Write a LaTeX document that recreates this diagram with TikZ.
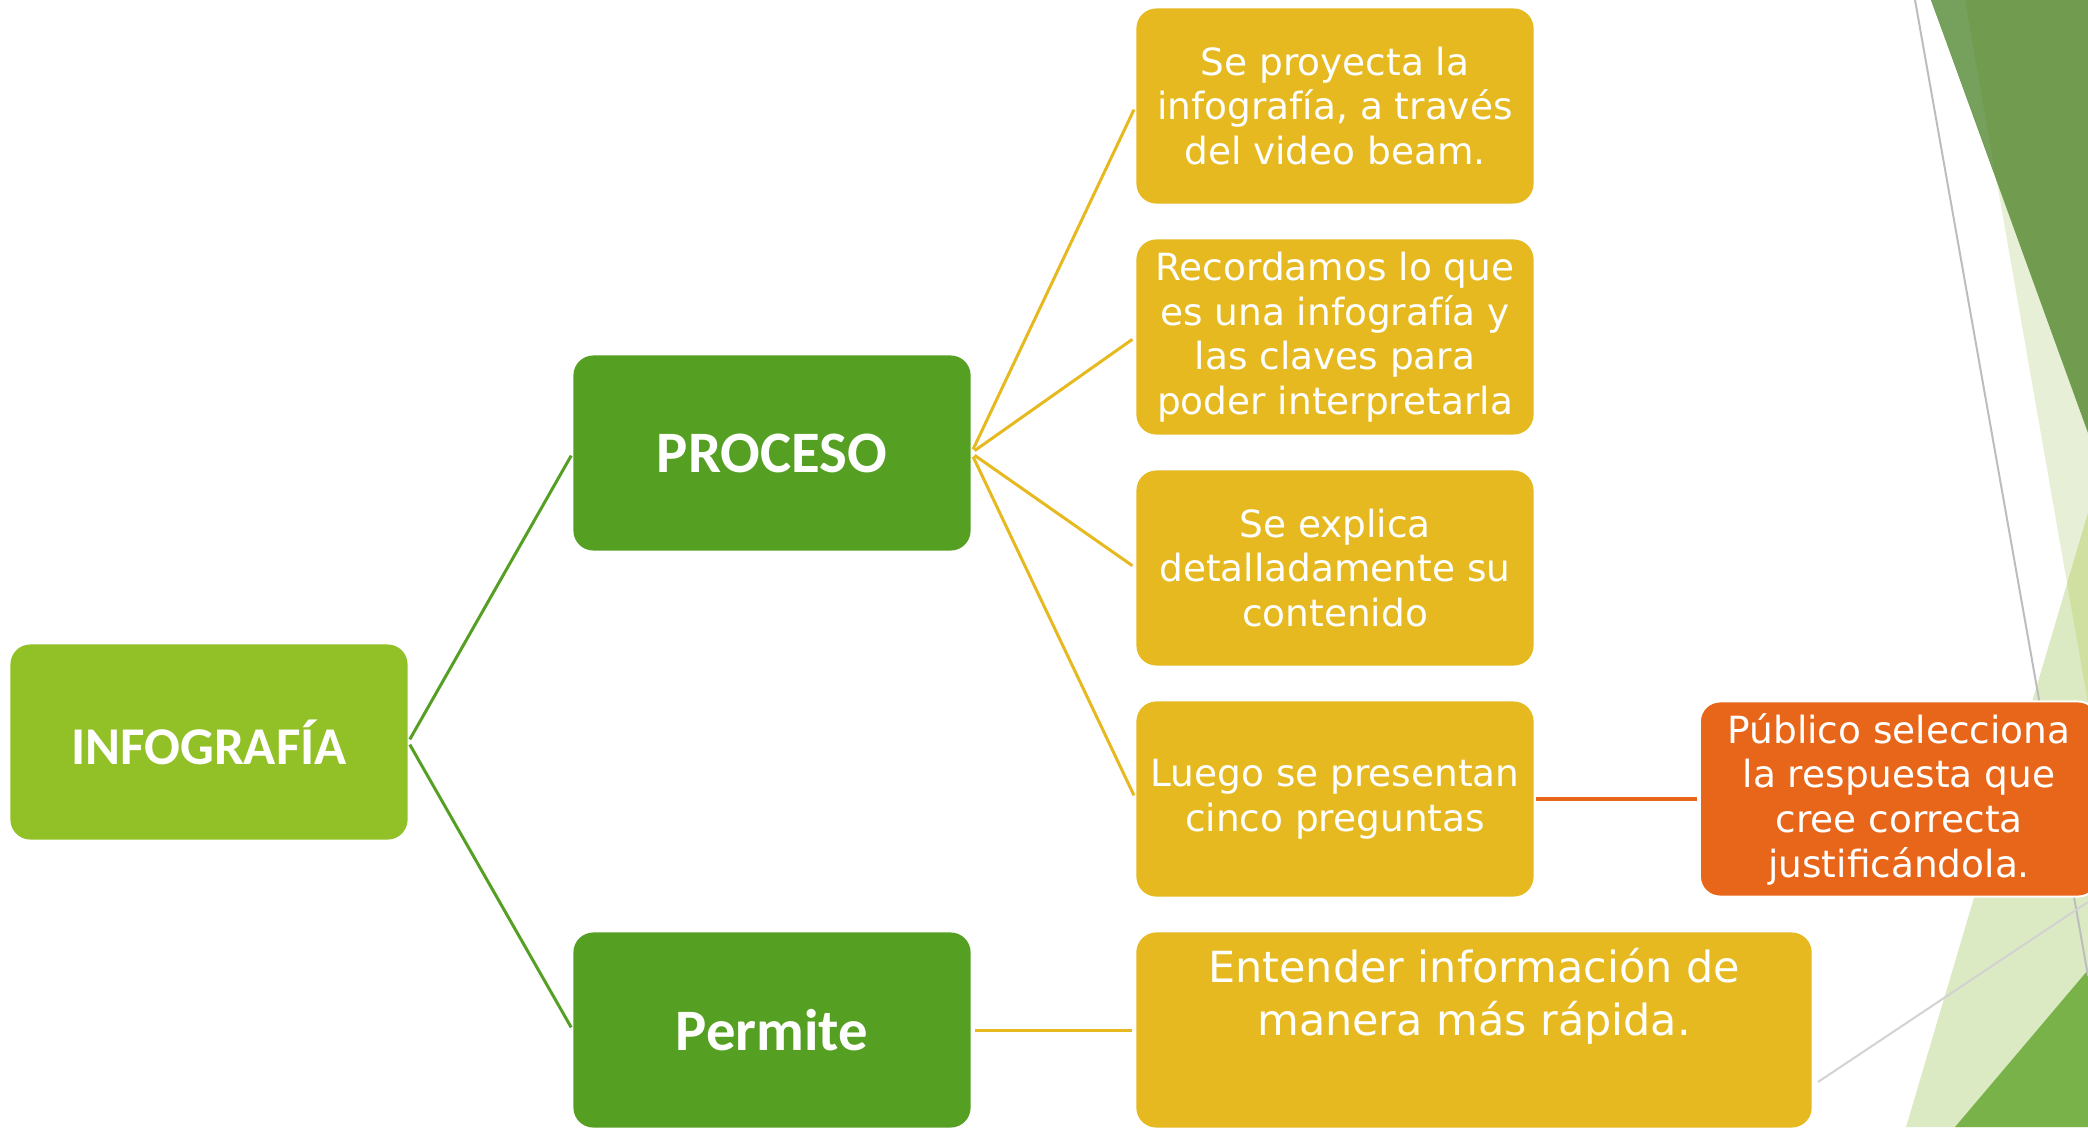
\documentclass[tikz,border=0pt]{standalone}
\usepackage{fontspec}
\setmainfont{DejaVu Sans}
\newfontfamily\titlefont{Carlito}
\definecolor{gA}{HTML}{92C127}
\definecolor{gB}{HTML}{55A023}
\definecolor{yel}{HTML}{E5B91F}
\definecolor{ora}{HTML}{E8661A}
\definecolor{dkg}{HTML}{719B4F}
\definecolor{dkg2}{HTML}{76A15D}
\definecolor{pale}{HTML}{E7F0D6}
\definecolor{lite}{HTML}{DCEAC3}
\definecolor{mid}{HTML}{CFE0A0}
\definecolor{btg}{HTML}{7AB24A}
\definecolor{gry}{HTML}{BDBDBD}
\definecolor{gry2}{HTML}{D2D2D2}
\tikzset{
  box/.style={rounded corners=0.2cm, minimum width=3.97cm, minimum height=1.95cm, inner sep=0pt, align=center, text=white},
  titlebox/.style={box, font=\titlefont\bfseries\fontsize{16.7pt}{19pt}\selectfont},
  textbox/.style={box, fill=yel, font=\fontsize{10.65pt}{12.7pt}\selectfont},
  gline/.style={draw=gB, line width=0.03cm, shorten <=0.03cm, shorten >=0.03cm},
  yline/.style={draw=yel, line width=0.03cm, shorten <=0.04cm, shorten >=0.04cm},
  oline/.style={draw=ora, line width=0.045cm, shorten <=0.02cm, shorten >=0.02cm}
}
\begin{document}
\begin{tikzpicture}[x=0.01cm,y=-0.01cm]
\useasboundingbox (0,0) rectangle (2088,1127);
\begin{scope}
\clip (0,0) rectangle (2088,1127);
% background facets
\fill[pale] (1965,0) -- (2088,703) -- (2088,0) -- cycle;
\fill[lite] (2088,513) -- (1906,1127) -- (2088,1127) -- cycle;
\begin{scope}
\clip (1965,0) -- (2088,703) -- (2088,0) -- cycle;
\fill[mid] (2088,513) -- (1906,1127) -- (2088,1127) -- cycle;
\end{scope}
\fill[dkg] (1931,0) -- (2088,0) -- (2088,433) -- cycle;
\fill[dkg2] (1931,0) -- (1965,0) -- (1995,173) -- cycle;
\fill[btg] (1955,1127) -- (2088,970) -- (2088,1127) -- cycle;
\draw[gry, line width=0.02cm] (1915,0) -- (2088,976);
\draw[gry2, line width=0.02cm] (1818,1082) -- (2088,902);
\end{scope}
% nodes
\node[titlebox, fill=gA, font=\titlefont\bfseries\fontsize{15.1pt}{18pt}\selectfont] (info) at (209,742) {INFOGRAFÍA};
\node[titlebox, fill=gB] (proc) at (772,453) {PROCESO};
\node[titlebox, fill=gB] (perm) at (772,1030) {Permite};
\node[textbox] (y1) at (1335,106) {Se proyecta la\\infografía, a través\\del video beam.};
\node[textbox] (y2) at (1335,337) {Recordamos lo que\\es una infografía y\\las claves para\\poder interpretarla};
\node[textbox] (y3) at (1335,568) {Se explica\\detalladamente su\\contenido};
\node[textbox] (y4) at (1335,799) {Luego se presentan\\cinco preguntas};
\node[box, fill=ora, draw=white, line width=0.02cm, minimum width=3.98cm, font=\fontsize{10.65pt}{12.7pt}\selectfont] (pub) at (1899,799) {Público selecciona\\la respuesta que\\cree correcta\\justificándola.};
\node[box, fill=yel, minimum width=6.75cm] (ent) at (1474,1030) {};
\node[text=white, align=center, inner sep=0pt, anchor=north, font=\fontsize{12.2pt}{15.1pt}\selectfont] (entT) at ([yshift=-0.16cm]ent.north) {Entender información de\\manera más rápida.};
% connectors
\draw[gline] (info.east) -- (proc.west);
\draw[gline] (info.east) -- (perm.west);
\draw[yline] (proc.east) -- (y1.west);
\draw[yline] (proc.east) -- (y2.west);
\draw[yline] (proc.east) -- (y3.west);
\draw[yline] (proc.east) -- (y4.west);
\draw[yline] (perm.east) -- (ent.west);
\draw[oline] (y4.east) -- (pub.west);
\end{tikzpicture}
\end{document}
